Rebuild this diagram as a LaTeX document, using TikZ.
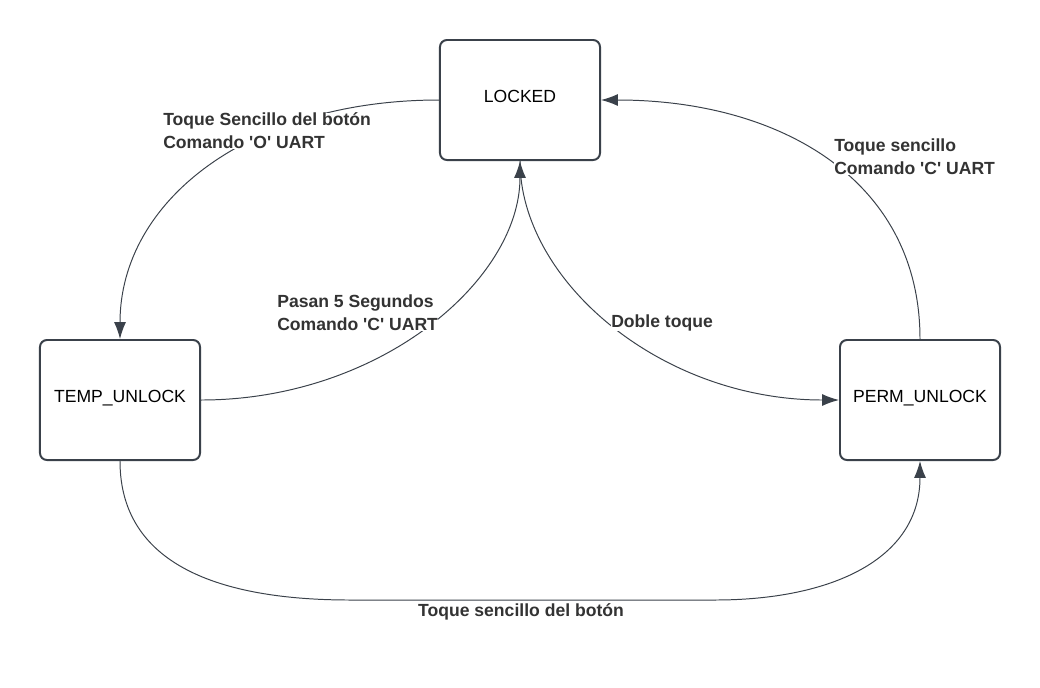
\documentclass[tikz,border=0pt]{standalone}
\usepackage{fontspec}
\setmainfont{Liberation Sans}
\usepackage{xcolor}
\usetikzlibrary{arrows.meta,positioning}

\definecolor{boxline}{HTML}{3A414A}
\definecolor{labeltext}{HTML}{333333}

\tikzset{
  state/.style={draw=boxline,line width=1.4pt,rounded corners=5pt,fill=white,
    minimum width=4cm,minimum height=3cm,text height=9pt,text depth=5pt,
    font=\fontsize{12.5}{15}\selectfont},
  trans/.style={draw=boxline,line width=0.7pt,-{Latex[length=12pt,width=8.5pt]}},
  plain/.style={draw=boxline,line width=0.7pt},
  lbl/.style={font=\fontsize{12.5}{16.3}\selectfont\bfseries,text=labeltext,
    fill=white,align=left,anchor=west,inner sep=0pt}
}
\newcommand{\sq}{\textquotesingle}

\begin{document}
\begin{tikzpicture}[x=0.025cm,y=-0.025cm]
\useasboundingbox (0,0) rectangle (1040,687);
% states
\node[state] (locked) at (520,100) {LOCKED};
\node[state] (temp) at (120,400) {TEMP\_UNLOCK};
\node[state] (perm) at (920,400) {PERM\_UNLOCK};
% transitions
\draw[trans] (locked.west) .. controls (250,100) and (120,200) .. (temp.north);
\draw[trans] (temp.east) .. controls (380,400) and (520,280) .. (locked.south);
\draw[trans] (locked.south) .. controls (520,280) and (660,400) .. (perm.west);
\draw[trans] (perm.north) .. controls (920,180) and (780,100) .. (locked.east);
\coordinate (bl) at (350,600);
\coordinate (br) at (715,600);
\draw[plain] (temp.south) .. controls (120,570) and (230,600) .. (bl) -- (br);
\draw[trans] (br) .. controls (830,600) and (920,560) .. (perm.south);
% labels
\node[lbl] (l1) at (163,131) {Toque Sencillo del botón\\Comando \sq O\sq{} UART};
\node[lbl] (l2) at (277,313) {Pasan 5 Segundos\\Comando \sq C\sq{} UART};
\node[lbl] (l3) at (611,323) {Doble toque};
\node[lbl] (l4) at (834,157) {Toque sencillo\\Comando \sq C\sq{} UART};
\node[lbl,anchor=center] (l5) at (521,612) {Toque sencillo del botón};
\end{tikzpicture}
\end{document}
